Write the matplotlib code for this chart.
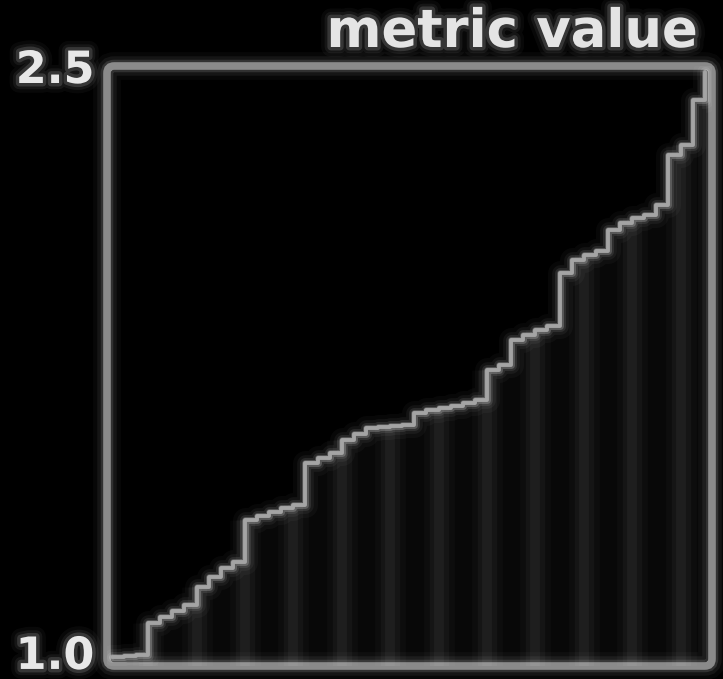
import numpy as np
import matplotlib
matplotlib.use("Agg")
import matplotlib.pyplot as plt
import matplotlib.patheffects as pe
import matplotlib.transforms as mtransforms
from matplotlib.patches import FancyBboxPatch

# ---- data ----
steps = list(range(50))
values = [1.000, 1.003, 1.005, 1.086, 1.102, 1.117, 1.132, 1.178, 1.203, 1.226,
          1.241, 1.348, 1.358, 1.368, 1.378, 1.386, 1.492, 1.505, 1.518, 1.551,
          1.566, 1.581, 1.584, 1.586, 1.589, 1.619, 1.627, 1.632, 1.637, 1.645,
          1.652, 1.728, 1.741, 1.805, 1.817, 1.830, 1.840, 1.975, 2.008, 2.020,
          2.030, 2.084, 2.102, 2.114, 2.122, 2.147, 2.274, 2.300, 2.414, 2.485]
stripe_steps = [3, 7, 11, 15, 19, 23, 27, 31, 35, 39, 43, 47]
ytick_vals = [1.0, 2.5]
ytick_labels = ["1.0", "2.5"]
title = "metric value"

x = np.array(steps)
v = np.array(values)

fig = plt.figure(figsize=(7.23, 6.79), dpi=100, facecolor="black")
ax = fig.add_axes([107/723, 1-666/679, (712-107)/723, (666-66)/679])
ax.set_facecolor("black")
ax.set_xlim(-0.4, 49.6)
ax.set_ylim(0.977, 2.5)

# faint area under curve and vertical stripes
ax.fill_between(x, 0.977, v, step="post", color="white", alpha=0.035, lw=0)
sv = [v[i] for i in stripe_steps]
for lw, a in [(22, 0.025), (14, 0.035), (7, 0.04)]:
    ax.vlines(stripe_steps, 0.977, sv, colors="white", alpha=a, lw=lw)

# glowing step line
for lw, a in [(18, 0.03), (12, 0.05), (8, 0.09), (5, 0.2)]:
    ax.step(x, v, where="post", color="white", lw=lw, alpha=a,
            solid_joinstyle="round", solid_capstyle="round")
ax.step(x, v, where="post", color="#a4a4a4", lw=2.8,
        solid_joinstyle="round", solid_capstyle="round")

# glowing frame
for sp in ax.spines.values():
    sp.set_visible(False)
for lw, a, c in [(20, 0.03, "white"), (14, 0.06, "white"), (9, 0.12, "white"),
                 (5.5, 1.0, "#8a8a8a")]:
    ax.add_patch(FancyBboxPatch((0, 0), 1, 1, boxstyle="round,pad=0,rounding_size=0.012",
                                transform=ax.transAxes, fill=False, ec=c, lw=lw,
                                alpha=a, clip_on=False))

glow = [pe.Stroke(linewidth=14, foreground="white", alpha=0.035),
        pe.Stroke(linewidth=9, foreground="white", alpha=0.06),
        pe.Stroke(linewidth=5, foreground="white", alpha=0.14),
        pe.Normal()]

ax.set_xticks([])
ax.set_yticks(ytick_vals)
ax.set_yticklabels(ytick_labels)
ax.tick_params(axis="y", length=0, pad=9, labelsize=32, labelcolor="#e8e8e8")
for lab in ax.get_yticklabels():
    lab.set_fontweight("bold")
    lab.set_path_effects(glow)
# lift the bottom label slightly so it stays inside the figure
bottom_lab = ax.get_yticklabels()[0]
bottom_lab.set_transform(bottom_lab.get_transform() +
                         mtransforms.ScaledTranslation(0, 5/100, fig.dpi_scale_trans))

fig.text(697/723, 1-32/679, title, ha="right", va="center", fontsize=38,
         fontweight="bold", color="#e4e4e4", path_effects=glow)

fig.savefig("out.png", dpi=100, facecolor="black")
